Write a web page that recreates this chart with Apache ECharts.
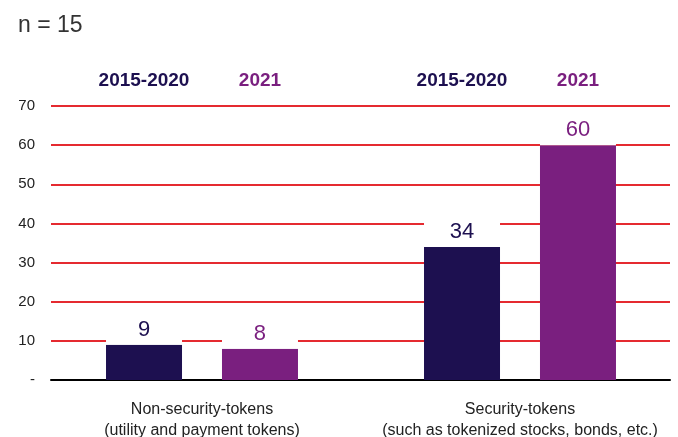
<!DOCTYPE html>
<html>
<head>
<meta charset="utf-8">
<script src="https://cdn.jsdelivr.net/npm/echarts@6/dist/echarts.min.js"></script>
<style>
  html, body { margin: 0; padding: 0; background: #fff; }
  #chart { width: 678px; height: 437px; }
</style>
</head>
<body>
<div id="chart"></div>
<script>
const categories = [
  'Non-security-tokens\n(utility and payment tokens)',
  'Security-tokens\n(such as tokenized stocks, bonds, etc.)'
];
const seriesNames = ['2015-2020', '2021'];
const values2015 = [9, 34];
const values2021 = [8, 60];
const yTicks = [0, 10, 20, 30, 40, 50, 60, 70];

const navy = '#1d1050';
const purple = '#7a1f7f';
const font = '"Liberation Sans", Arial, sans-serif';

const chart = echarts.init(document.getElementById('chart'));

function valueLabel(color) {
  return {
    show: true,
    position: 'top',
    distance: 0,
    color: color,
    fontFamily: font,
    fontSize: 22,
    lineHeight: 22,
    width: 76,
    align: 'center',
    backgroundColor: '#fff',
    padding: [4, 0, 4, 0]
  };
}

const option = {
  animation: false,
  backgroundColor: '#fff',
  textStyle: { fontFamily: font },
  title: {
    text: 'n = 15',
    left: 13,
    top: 9,
    textStyle: { fontFamily: font, fontSize: 23, fontWeight: 'normal', color: '#333' }
  },
  grid: [
    // bars and category labels
    { left: 43, width: 636, top: 106, bottom: 57, outerBoundsMode: 'none', containLabel: false },
    // gridlines, value labels, baseline
    { left: 51, right: 8, top: 106, bottom: 57, outerBoundsMode: 'none', containLabel: false }
  ],
  xAxis: [
    {
      gridIndex: 0,
      type: 'category',
      data: categories,
      axisLine: { show: false },
      axisTick: { show: false },
      axisLabel: {
        interval: 0,
        hideOverlap: false,
        margin: 19,
        fontSize: 16,
        lineHeight: 21,
        color: '#222',
        fontFamily: font
      }
    },
    {
      gridIndex: 1,
      type: 'category',
      data: [''],
      axisLine: { show: true, lineStyle: { color: '#000', width: 2 } },
      axisTick: { show: false },
      axisLabel: { show: false }
    }
  ],
  yAxis: [
    { gridIndex: 0, type: 'value', min: 0, max: 70, interval: 10, show: false },
    {
      gridIndex: 1,
      type: 'value',
      min: yTicks[0],
      max: yTicks[yTicks.length - 1],
      interval: 10,
      axisLine: { show: false },
      axisTick: { show: false },
      axisLabel: {
        margin: 16,
        fontSize: 15,
        color: '#222',
        fontFamily: font,
        formatter: v => (v === 0 ? '-' : v)
      },
      splitLine: { lineStyle: { color: '#e52a30', width: 2 } }
    }
  ],
  series: [
    {
      name: seriesNames[0],
      type: 'bar',
      xAxisIndex: 0,
      yAxisIndex: 0,
      data: values2015,
      barWidth: 76,
      barGap: '52.6%',
      itemStyle: { color: navy },
      label: valueLabel(navy)
    },
    {
      name: seriesNames[1],
      type: 'bar',
      xAxisIndex: 0,
      yAxisIndex: 0,
      data: values2021,
      barWidth: 76,
      barGap: '52.6%',
      itemStyle: { color: purple },
      label: valueLabel(purple)
    }
  ]
};

chart.setOption(option);

// column headers above each bar
const offset = 58;
const headers = [];
categories.forEach(cat => {
  const cx = chart.convertToPixel({ xAxisIndex: 0 }, cat);
  seriesNames.forEach((name, i) => {
    headers.push({
      type: 'text',
      x: cx + (i === 0 ? -offset : offset),
      y: 81,
      style: {
        text: name,
        fill: i === 0 ? navy : purple,
        font: 'bold 19px ' + font,
        textAlign: 'center',
        textVerticalAlign: 'middle'
      }
    });
  });
});
chart.setOption({ graphic: headers });
</script>
</body>
</html>
